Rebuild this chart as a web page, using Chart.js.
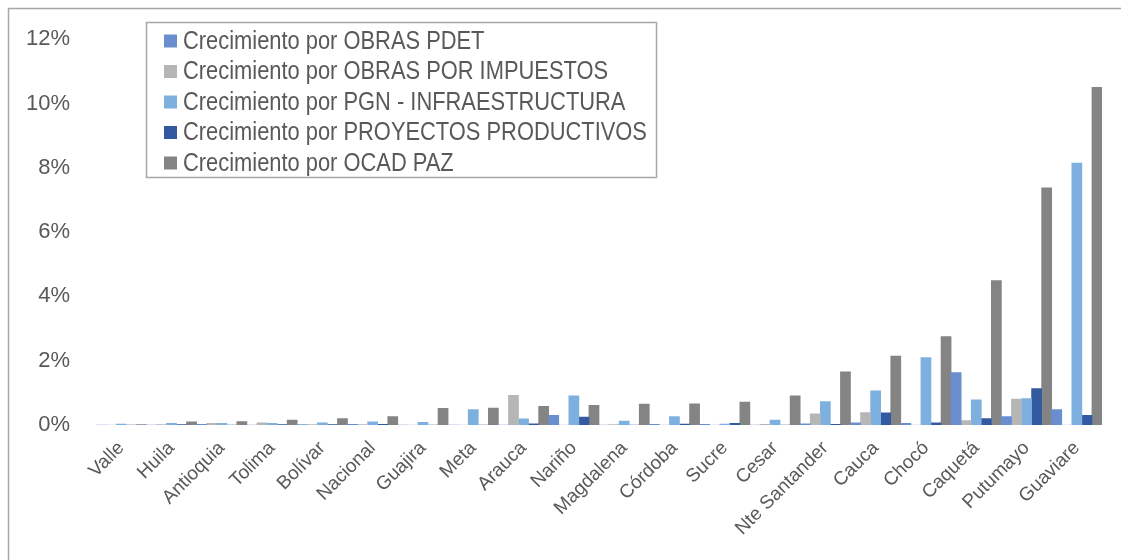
<!DOCTYPE html>
<html>
<head>
<meta charset="utf-8">
<script src="https://cdn.jsdelivr.net/npm/chart.js@4"></script>
<style>
  html, body { margin: 0; padding: 0; background: #fff; }
  #wrap { position: relative; width: 1121px; height: 560px; }
</style>
</head>
<body>
<div id="wrap"><canvas id="growthChart" width="1121" height="560"></canvas></div>
<script>
// Departments, sorted by OCAD PAZ growth
const departments = ['Valle', 'Huila', 'Antioquia', 'Tolima', 'Bolívar', 'Nacional', 'Guajira', 'Meta', 'Arauca', 'Nariño',
    'Magdalena', 'Córdoba', 'Sucre', 'Cesar', 'Nte Santander', 'Cauca', 'Chocó', 'Caquetá', 'Putumayo', 'Guaviare'];

// Growth in percent
const obrasPdet = [0, 0, 0.02, 0, 0.01, 0.02, 0, 0, 0, 0.3, 0, 0.02, 0.02, 0, 0.04, 0.07, 0.05, 1.63, 0.26, 0.48];
const obrasImpuestos = [0, 0.01, 0.05, 0.07, 0.01, 0.01, 0, 0, 0.92, 0, 0.01, 0, 0, 0.02, 0.35, 0.39, 0, 0.14, 0.81, 0];
const pgnInfra = [0.03, 0.05, 0.05, 0.05, 0.07, 0.1, 0.08, 0.48, 0.19, 0.91, 0.12, 0.26, 0.03, 0.15, 0.73, 1.06, 2.1, 0.78, 0.82, 8.15];
const proyectosProductivos = [0, 0.01, 0, 0.01, 0.01, 0.02, 0, 0, 0.04, 0.25, 0, 0.03, 0.05, 0, 0.02, 0.38, 0.07, 0.2, 1.13, 0.3];
const ocadPaz = [0.01, 0.1, 0.11, 0.15, 0.2, 0.26, 0.52, 0.53, 0.58, 0.61, 0.65, 0.66, 0.71, 0.91, 1.65, 2.14, 2.75, 4.49, 7.38, 10.5];

const seriesLabels = ['Crecimiento por OBRAS PDET', 'Crecimiento por OBRAS POR IMPUESTOS', 'Crecimiento por PGN - INFRAESTRUCTURA',
    'Crecimiento por PROYECTOS PRODUCTIVOS', 'Crecimiento por OCAD PAZ'];
const seriesColors = ['#6A8FD0', '#B6B6B6', '#7EB0DF', '#3359A1', '#848484'];
const seriesValues = [obrasPdet, obrasImpuestos, pgnInfra, proyectosProductivos, ocadPaz];

const textColor = '#595959';
const frameColor = '#A6A6A6';

// Outer frame (left + top edge of the Excel chart box)
const framePlugin = {
    id: 'frame',
    beforeDraw(chart) {
        const ctx = chart.ctx;
        ctx.save();
        ctx.strokeStyle = frameColor;
        ctx.lineWidth = 1.5;
        ctx.beginPath();
        ctx.moveTo(8.5, 560);
        ctx.lineTo(8.5, 8.5);
        ctx.lineTo(1121, 8.5);
        ctx.stroke();
        ctx.restore();
    }
};

// Boxed legend drawn inside the plot, narrow font like the original
const boxLegendPlugin = {
    id: 'boxLegend',
    afterDraw(chart) {
        const ctx = chart.ctx;
        ctx.save();
        ctx.strokeStyle = frameColor;
        ctx.lineWidth = 1.5;
        ctx.strokeRect(146.5, 22.5, 510, 155);
        chart.data.datasets.forEach((ds, i) => {
            const cy = 41 + i * 30.5;
            ctx.fillStyle = ds.backgroundColor;
            ctx.fillRect(164, cy - 6.5, 13, 13);
            ctx.save();
            ctx.translate(183, cy + 1);
            ctx.scale(0.875, 1);
            ctx.font = '25px "Liberation Sans", Arial, sans-serif';
            ctx.fillStyle = textColor;
            ctx.textBaseline = 'middle';
            ctx.fillText(ds.label, 0, 0);
            ctx.restore();
        });
        ctx.restore();
    }
};

const ctx = document.getElementById('growthChart').getContext('2d');
new Chart(ctx, {
    type: 'bar',
    data: {
        labels: departments,
        datasets: seriesLabels.map((label, i) => ({
            label: label,
            data: seriesValues[i],
            backgroundColor: seriesColors[i],
            borderWidth: 0,
            categoryPercentage: 1.0,
            barPercentage: 1.0
        }))
    },
    options: {
        responsive: false,
        animation: false,
        layout: { padding: { left: 10, right: 19, top: 38, bottom: 0 } },
        plugins: {
            legend: { display: false },
            tooltip: { enabled: false }
        },
        scales: {
            x: {
                grid: { display: false, drawTicks: false },
                border: { display: false },
                ticks: {
                    color: textColor,
                    font: { family: '"Liberation Sans", Arial, sans-serif', size: 19 },
                    maxRotation: 45,
                    minRotation: 45,
                    autoSkip: false,
                    padding: 12
                },
                afterFit(axis) { axis.height = 135; }
            },
            y: {
                min: 0,
                max: 12,
                grid: { display: false, drawTicks: false },
                border: { display: false },
                ticks: {
                    stepSize: 2,
                    color: textColor,
                    font: { family: '"Liberation Sans", Arial, sans-serif', size: 22 },
                    padding: 26,
                    callback: v => v + '%'
                },
                afterFit(axis) { axis.width = 86; }
            }
        }
    },
    plugins: [framePlugin, boxLegendPlugin]
});
</script>
</body>
</html>
